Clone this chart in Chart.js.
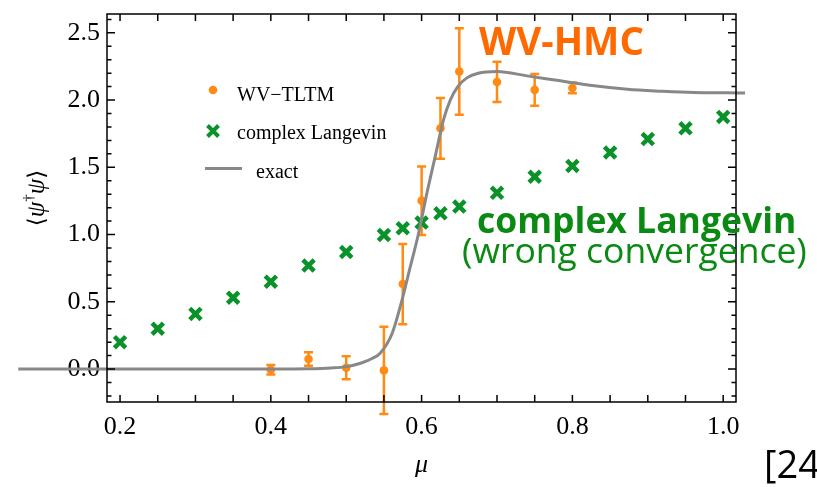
<!DOCTYPE html>
<html><head><meta charset="utf-8">
<script src="https://cdn.jsdelivr.net/npm/chart.js@4/dist/chart.umd.min.js"></script>
<style>html,body{margin:0;padding:0;background:#fff;}canvas{display:block;}</style>
</head><body>
<canvas id="c" width="817" height="487"></canvas>
<script>
// ---- data ----
const muTLTM  = [0.4, 0.45, 0.5, 0.55, 0.575, 0.6, 0.625, 0.65, 0.7, 0.75, 0.8];
const valTLTM = [-0.005, 0.075, 0.01, -0.01, 0.632, 1.252, 1.79, 2.212, 2.135, 2.076, 2.09];
const errTLTM = [0.035, 0.05, 0.085, 0.325, 0.298, 0.255, 0.226, 0.322, 0.15, 0.118, 0.04];

const muCL  = [0.2, 0.25, 0.3, 0.35, 0.4, 0.45, 0.5, 0.55, 0.575, 0.6, 0.625, 0.65, 0.7, 0.75, 0.8, 0.85, 0.9, 0.95, 1.0];
const valCL = [0.2, 0.30, 0.41, 0.53, 0.65, 0.77, 0.87, 0.997, 1.047, 1.089, 1.158, 1.208, 1.31, 1.43, 1.51, 1.61, 1.71, 1.79, 1.875];

const muExact  = [0.065, 0.2, 0.3, 0.4, 0.45, 0.48, 0.5, 0.52, 0.535, 0.545, 0.561, 0.574, 0.585, 0.596, 0.607, 0.618, 0.629, 0.638, 0.648, 0.66, 0.675, 0.70, 0.74, 0.784, 0.829, 0.873, 0.917, 0.961, 1.006, 1.029];
const valExact = [0, 0, 0, 0, 0.002, 0.008, 0.018, 0.045, 0.08, 0.117, 0.266, 0.513, 0.761, 1.01, 1.307, 1.58, 1.853, 2.0, 2.10, 2.165, 2.2, 2.212, 2.18, 2.143, 2.106, 2.08, 2.066, 2.056, 2.054, 2.053];

const xLabelTicks = [0.2, 0.4, 0.6, 0.8, 1.0];
const yLabelTicks = [0.0, 0.5, 1.0, 1.5, 2.0, 2.5];
const xTickMarks = [0.2,0.25,0.3,0.35,0.4,0.45,0.5,0.55,0.6,0.65,0.7,0.75,0.8,0.85,0.9,0.95,1.0];
const yTickMarks = [-0.2,-0.1,0,0.1,0.2,0.3,0.4,0.5,0.6,0.7,0.8,0.9,1.0,1.1,1.2,1.3,1.4,1.5,1.6,1.7,1.8,1.9,2.0,2.1,2.2,2.3,2.4,2.5,2.6];
const yMajorMarks = [0, 0.5, 1.0, 1.5, 2.0, 2.5];

const ORANGE = '#ff8a14';
const GREEN = '#0a922a';
const GRAY = '#888888';
const SERIF = '"Liberation Serif", "DejaVu Serif", serif';
const SANS = '"Open Sans", "Noto Sans", sans-serif';

const pts = (xs, ys) => xs.map((x, i) => ({x, y: ys[i]}));

const errorBars = {
  id: 'errorBars',
  beforeDatasetsDraw(chart) {
    const {ctx, scales: {x, y}} = chart;
    ctx.save();
    ctx.strokeStyle = ORANGE;
    ctx.lineWidth = 2.5;
    muTLTM.forEach((m, i) => {
      const px = x.getPixelForValue(m);
      const lo = y.getPixelForValue(valTLTM[i] - errTLTM[i]);
      const hi = y.getPixelForValue(valTLTM[i] + errTLTM[i]);
      ctx.beginPath();
      ctx.moveTo(px, lo); ctx.lineTo(px, hi);
      ctx.moveTo(px - 4.5, lo); ctx.lineTo(px + 4.5, lo);
      ctx.moveTo(px - 4.5, hi); ctx.lineTo(px + 4.5, hi);
      ctx.stroke();
    });
    ctx.restore();
  }
};

const frame = {
  id: 'frame',
  afterDatasetsDraw(chart) {
    const {ctx, chartArea: a, scales: {x, y}} = chart;
    ctx.save();
    ctx.strokeStyle = '#000';
    ctx.lineWidth = 1.5;
    ctx.strokeRect(a.left, a.top, a.right - a.left, a.bottom - a.top);
    ctx.beginPath();
    xTickMarks.forEach(v => {
      const px = x.getPixelForValue(v);
      ctx.moveTo(px, a.bottom); ctx.lineTo(px, a.bottom - 7);
      ctx.moveTo(px, a.top); ctx.lineTo(px, a.top + 7);
    });
    yTickMarks.forEach(v => {
      const py = y.getPixelForValue(v);
      const len = yMajorMarks.some(m => Math.abs(m - v) < 1e-9) ? 8 : 4.5;
      ctx.moveTo(a.left, py); ctx.lineTo(a.left + len, py);
      ctx.moveTo(a.right, py); ctx.lineTo(a.right - len, py);
    });
    ctx.stroke();
    ctx.restore();
  }
};

const texts = {
  id: 'texts',
  afterDraw(chart) {
    const ctx = chart.ctx;
    const ds = chart.data.datasets;
    ctx.save();
    // legend
    ctx.fillStyle = ORANGE;
    ctx.beginPath(); ctx.arc(213, 90, 4.3, 0, Math.PI * 2); ctx.fill();
    ctx.strokeStyle = GREEN; ctx.lineWidth = 4;
    ctx.beginPath();
    ctx.moveTo(207.5, 125.5); ctx.lineTo(218.5, 136.5);
    ctx.moveTo(218.5, 125.5); ctx.lineTo(207.5, 136.5);
    ctx.stroke();
    ctx.strokeStyle = GRAY; ctx.lineWidth = 3;
    ctx.beginPath(); ctx.moveTo(205, 168.5); ctx.lineTo(242, 168.5); ctx.stroke();
    ctx.fillStyle = '#000';
    ctx.font = '20px ' + SERIF;
    ctx.textBaseline = 'alphabetic';
    ctx.textAlign = 'left';
    ctx.fillText(ds[1].label, 237, 101);
    ctx.fillText(ds[2].label, 237, 139);
    ctx.fillText(ds[0].label, 256, 178);

    // annotations
    ctx.fillStyle = '#ff6a00';
    ctx.font = 'bold 38.5px ' + SANS;
    ctx.fillText('WV-HMC', 479, 55);
    ctx.fillStyle = '#0a8a12';
    ctx.font = 'bold 35.5px ' + SANS;
    ctx.fillText('complex Langevin', 477, 233);
    ctx.font = '35.5px ' + SANS;
    ctx.fillText('(wrong convergence)', 462, 263);
    ctx.fillStyle = '#000';
    ctx.font = '38px ' + SANS;
    ctx.fillText('[24', 764, 478);

    // y-axis title  ⟨ψ†ψ⟩
    ctx.translate(44, 198);
    ctx.rotate(-Math.PI / 2);
    const parts = [
      {t: '⟨', f: '23px "DejaVu Serif", ' + SERIF, dy: 0},
      {t: 'ψ', f: 'italic 25px ' + SERIF, dy: 0},
      {t: '†', f: '15px ' + SERIF, dy: -11},
      {t: 'ψ', f: 'italic 25px ' + SERIF, dy: 0},
      {t: '⟩', f: '23px "DejaVu Serif", ' + SERIF, dy: 0}
    ];
    let total = 0;
    parts.forEach(p => { ctx.font = p.f; p.w = ctx.measureText(p.t).width; total += p.w; });
    let cx = -total / 2;
    ctx.fillStyle = '#000';
    parts.forEach(p => { ctx.font = p.f; ctx.fillText(p.t, cx, p.dy); cx += p.w; });
    ctx.restore();
  }
};

new Chart(document.getElementById('c'), {
  type: 'scatter',
  data: {
    datasets: [
      {
        label: 'exact', type: 'line', data: pts(muExact, valExact),
        borderColor: GRAY, borderWidth: 3, pointRadius: 0, fill: false,
        cubicInterpolationMode: 'monotone', clip: false, order: 0
      },
      {
        label: 'WV−TLTM', data: pts(muTLTM, valTLTM),
        backgroundColor: ORANGE, borderColor: ORANGE, pointRadius: 4.3, borderWidth: 0,
        clip: false, order: 2
      },
      {
        label: 'complex Langevin', data: pts(muCL, valCL),
        pointStyle: 'crossRot', pointRadius: 8, borderWidth: 4.5,
        borderColor: GREEN, backgroundColor: GREEN, order: 1
      }
    ]
  },
  options: {
    responsive: false,
    animation: false,
    layout: {padding: {left: 0, right: 81, top: 14, bottom: 0}},
    plugins: {legend: {display: false}, tooltip: {enabled: false}},
    scales: {
      x: {
        type: 'linear', min: 0.1827, max: 1.017,
        afterFit(s) { s.height = 85; s.paddingLeft = 0; s.paddingRight = 0; },
        afterBuildTicks(s) { s.ticks = xLabelTicks.map(v => ({value: v})); },
        grid: {display: false, drawTicks: false},
        border: {display: false},
        ticks: {color: '#000', font: {family: SERIF, size: 26}, padding: 10,
                maxRotation: 0, autoSkip: false, callback: v => v.toFixed(1)},
        title: {display: true, text: 'μ', color: '#000',
                font: {family: SERIF, size: 26, style: 'italic'}, padding: {top: 0, bottom: 6}}
      },
      y: {
        type: 'linear', min: -0.245, max: 2.64,
        afterFit(s) { s.width = 107; s.paddingTop = 0; s.paddingBottom = 0; },
        afterBuildTicks(s) { s.ticks = yLabelTicks.map(v => ({value: v})); },
        grid: {display: false, drawTicks: false},
        border: {display: false},
        ticks: {color: '#000', font: {family: SERIF, size: 26}, padding: 7,
                autoSkip: false, callback: v => v.toFixed(1)}
      }
    }
  },
  plugins: [errorBars, frame, texts]
});
</script>
</body></html>
